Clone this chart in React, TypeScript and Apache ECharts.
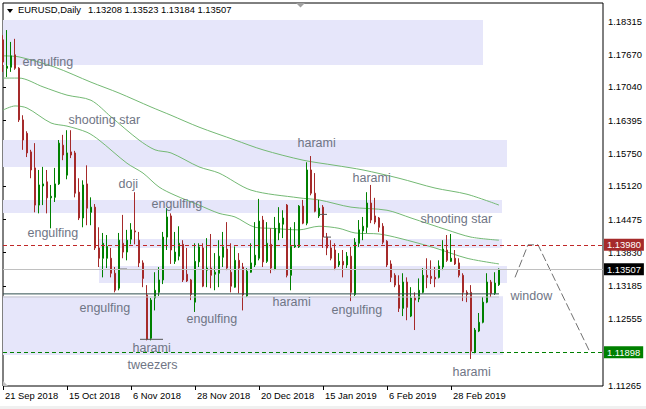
import React, { useEffect, useRef } from 'react';
import * as echarts from 'echarts';

// ---------- data ----------
const slotCount = 151; // bar slots incl. right shift space
const tickIndex = [0, 16, 32, 48, 64, 80, 96, 112];
const tickLabels = ['21 Sep 2018', '15 Oct 2018', '6 Nov 2018', '28 Nov 2018', '20 Dec 2018', '15 Jan 2019', '6 Feb 2019', '28 Feb 2019'];
const priceTicks = [1.18315, 1.1767, 1.1704, 1.16395, 1.1575, 1.1512, 1.14475, 1.1383, 1.13185, 1.12555, 1.11925, 1.11265];
const priceLabels = [1.18315, 1.1767, 1.1704, 1.16395, 1.1575, 1.1512, 1.14475, 1.1383, 1.13185, 1.12555, 1.11265];

// [open, high, low, close]
const candles = [
  [1.1795, 1.1804, 1.1733, 1.1752], [1.1740, 1.1814, 1.1723, 1.1744], [1.1742, 1.1791, 1.1733, 1.1764], [1.1766, 1.1797, 1.1737, 1.1740],
  [1.1740, 1.1742, 1.1636, 1.1640], [1.1640, 1.1649, 1.1582, 1.1601], [1.1614, 1.1618, 1.1568, 1.1576], [1.1578, 1.1582, 1.1527, 1.1543],
  [1.1547, 1.1595, 1.1461, 1.1475], [1.1475, 1.1543, 1.1459, 1.1514], [1.1512, 1.1549, 1.1475, 1.1516], [1.1520, 1.1543, 1.1459, 1.1489],
  [1.1489, 1.1514, 1.1430, 1.1492], [1.1490, 1.1547, 1.1481, 1.1516], [1.1516, 1.1601, 1.1514, 1.1595], [1.1591, 1.1611, 1.1562, 1.1572],
  [1.1533, 1.1620, 1.1525, 1.1576], [1.1578, 1.1620, 1.1566, 1.1572], [1.1576, 1.1580, 1.1490, 1.1498], [1.1500, 1.1527, 1.1446, 1.1450],
  [1.1450, 1.1523, 1.1432, 1.1514], [1.1516, 1.1552, 1.1436, 1.1469], [1.1461, 1.1490, 1.1436, 1.1471], [1.1471, 1.1477, 1.1388, 1.1392],
  [1.1392, 1.1432, 1.1355, 1.1372], [1.1372, 1.1421, 1.1335, 1.1401], [1.1372, 1.1417, 1.1353, 1.1395], [1.1372, 1.1392, 1.1335, 1.1343],
  [1.1343, 1.1355, 1.1306, 1.1310], [1.1314, 1.1421, 1.1310, 1.1407], [1.1401, 1.1456, 1.1372, 1.1384], [1.1384, 1.1427, 1.1368, 1.1407],
  [1.1409, 1.1440, 1.1399, 1.1427], [1.1425, 1.1500, 1.1399, 1.1423], [1.1407, 1.1423, 1.1355, 1.1363], [1.1363, 1.1368, 1.1316, 1.1333],
  [1.1301, 1.1320, 1.1213, 1.1215], [1.1217, 1.1295, 1.1213, 1.1291], [1.1295, 1.1345, 1.1271, 1.1310], [1.1306, 1.1355, 1.1299, 1.1330],
  [1.1330, 1.1423, 1.1322, 1.1413], [1.1413, 1.1469, 1.1388, 1.1452], [1.1454, 1.1459, 1.1361, 1.1388], [1.1366, 1.1423, 1.1361, 1.1384],
  [1.1376, 1.1434, 1.1368, 1.1401], [1.1399, 1.1407, 1.1326, 1.1330], [1.1341, 1.1392, 1.1326, 1.1328], [1.1330, 1.1332, 1.1291, 1.1302],
  [1.1287, 1.1401, 1.1268, 1.1366], [1.1365, 1.1401, 1.1355, 1.1394], [1.1392, 1.1401, 1.1316, 1.1318], [1.1349, 1.1411, 1.1316, 1.1353],
  [1.1353, 1.1419, 1.1314, 1.1339], [1.1341, 1.1382, 1.1310, 1.1345], [1.1343, 1.1407, 1.1316, 1.1376], [1.1374, 1.1423, 1.1355, 1.1394],
  [1.1390, 1.1442, 1.1349, 1.1353], [1.1345, 1.1401, 1.1306, 1.1318], [1.1316, 1.1395, 1.1315, 1.1368], [1.1368, 1.1382, 1.1304, 1.1353],
  [1.1355, 1.1363, 1.1271, 1.1301], [1.1299, 1.1353, 1.1297, 1.1347], [1.1345, 1.1401, 1.1344, 1.1363], [1.1359, 1.1442, 1.1355, 1.1378],
  [1.1372, 1.1487, 1.1368, 1.1444], [1.1446, 1.1454, 1.1355, 1.1365], [1.1366, 1.1442, 1.1363, 1.1401], [1.1399, 1.1430, 1.1343, 1.1353],
  [1.1351, 1.1452, 1.1349, 1.1430], [1.1421, 1.1471, 1.1407, 1.1440], [1.1438, 1.1465, 1.1411, 1.1450], [1.1475, 1.1477, 1.1335, 1.1339],
  [1.1339, 1.1432, 1.1310, 1.1395], [1.1394, 1.1442, 1.1392, 1.1397], [1.1394, 1.1475, 1.1392, 1.1473], [1.1473, 1.1485, 1.1438, 1.1440],
  [1.1440, 1.1558, 1.1436, 1.1543], [1.1543, 1.1570, 1.1494, 1.1498], [1.1498, 1.1537, 1.1461, 1.1463], [1.1454, 1.1485, 1.1450, 1.1469],
  [1.1471, 1.1475, 1.1392, 1.1413], [1.1413, 1.1421, 1.1378, 1.1392], [1.1392, 1.1407, 1.1368, 1.1372], [1.1388, 1.1401, 1.1349, 1.1353],
  [1.1359, 1.1382, 1.1355, 1.1366], [1.1366, 1.1388, 1.1335, 1.1359], [1.1359, 1.1384, 1.1353, 1.1376], [1.1376, 1.1394, 1.1289, 1.1306],
  [1.1302, 1.1411, 1.1299, 1.1403], [1.1401, 1.1446, 1.1394, 1.1427], [1.1425, 1.1452, 1.1407, 1.1434], [1.1432, 1.1500, 1.1421, 1.1479],
  [1.1479, 1.1514, 1.1440, 1.1446], [1.1454, 1.1489, 1.1438, 1.1442], [1.1450, 1.1452, 1.1423, 1.1432], [1.1434, 1.1440, 1.1399, 1.1403],
  [1.1405, 1.1407, 1.1355, 1.1359], [1.1361, 1.1368, 1.1326, 1.1335], [1.1339, 1.1343, 1.1316, 1.1320], [1.1320, 1.1339, 1.1268, 1.1275],
  [1.1275, 1.1343, 1.1260, 1.1326], [1.1326, 1.1335, 1.1252, 1.1277], [1.1260, 1.1316, 1.1258, 1.1295], [1.1295, 1.1306, 1.1233, 1.1291],
  [1.1293, 1.1333, 1.1287, 1.1310], [1.1306, 1.1353, 1.1304, 1.1339], [1.1339, 1.1372, 1.1314, 1.1335], [1.1337, 1.1368, 1.1322, 1.1333],
  [1.1335, 1.1355, 1.1316, 1.1332], [1.1335, 1.1368, 1.1333, 1.1357], [1.1355, 1.1407, 1.1349, 1.1390], [1.1388, 1.1417, 1.1365, 1.1368],
  [1.1366, 1.1419, 1.1365, 1.1372], [1.1372, 1.1388, 1.1359, 1.1361], [1.1363, 1.1372, 1.1335, 1.1339], [1.1339, 1.1343, 1.1289, 1.1306],
  [1.1306, 1.1310, 1.1287, 1.1302], [1.1306, 1.1320, 1.1177, 1.1192], [1.1190, 1.1237, 1.1188, 1.1233], [1.1231, 1.1266, 1.1229, 1.1248],
  [1.1248, 1.1297, 1.1246, 1.1287], [1.1287, 1.1343, 1.1285, 1.1326], [1.1326, 1.1330, 1.1297, 1.1304], [1.1304, 1.1345, 1.1301, 1.1324],
  [1.13208, 1.13523, 1.13184, 1.13507],
];

// moving averages read at sample bars: [barIndex, value]
const maSlow = [[0, 1.1764], [4, 1.1762], [13, 1.1742], [22, 1.1713], [29, 1.1692], [37, 1.1665], [42, 1.1649], [49, 1.1626], [58, 1.1601], [65, 1.1582], [75, 1.1562], [83, 1.1552], [90, 1.1543], [99, 1.1527], [108, 1.1508], [116, 1.1496], [124, 1.1475]];
const maMid = [[0, 1.1721], [4, 1.1721], [10, 1.1704], [16, 1.1688], [22, 1.1678], [27, 1.1646], [34, 1.1601], [38, 1.1582], [42, 1.1576], [49, 1.1549], [54, 1.1537], [62, 1.1504], [74, 1.1489], [79, 1.1485], [87, 1.1471], [96, 1.1465], [102, 1.1450], [111, 1.1427], [117, 1.1413], [124, 1.1407]];
const maFast = [[0, 1.1659], [3, 1.1667], [6, 1.1663], [12, 1.1634], [16, 1.1628], [21, 1.1616], [24, 1.1601], [31, 1.1556], [35, 1.1537], [39, 1.1510], [43, 1.1494], [49, 1.1475], [54, 1.1459], [58, 1.1452], [63, 1.1432], [67, 1.1430], [74, 1.1427], [79, 1.1434], [84, 1.1430], [88, 1.1421], [94, 1.1419], [99, 1.1411], [108, 1.1392], [116, 1.1372], [124, 1.1361]];

// lavender zones
const zoneStart = [0, 0, 0, 24, 24, 0];
const zoneEnd = [120, 126, 124.75, 124.75, 126, 125];
const zoneHigh = [1.18334, 1.16010, 1.14848, 1.14093, 1.13570, 1.12985];
const zoneLow = [1.17463, 1.15487, 1.14596, 1.13918, 1.13240, 1.11846];

// horizontal levels
const resistance = 1.1398;
const support = 1.11898;
const bid = 1.13507;
const midLevel = 1.1303;
const midLevel2 = 1.1297;
const levelEnd = 124;

// short drawn segments [x0, x1, price]
const segments = [[34.25, 40, 1.1215], [29.25, 31, 1.1351], [79, 81, 1.1457], [80.25, 82, 1.1413]];

// projected path
const pathIdx = [128, 131.25, 133.75, 146.75];
const pathPrice = [1.1335, 1.1398, 1.1398, 1.1190];

// annotations
const noteText = ['engulfing', 'shooting star', 'doji', 'engulfing', 'engulfing', 'harami', 'harami', 'shooting star', 'engulfing', 'engulfing', 'harami', 'engulfing', 'harami', 'tweezers', 'window', 'harami'];
const noteIdx = [4.75, 16.25, 28.75, 37, 6, 73.5, 87.25, 104.25, 19, 45.75, 67.25, 82, 32.25, 31, 126.75, 112.25];
const notePrice = [1.1752, 1.1640, 1.1516, 1.1477, 1.1421, 1.1595, 1.1527, 1.1448, 1.1275, 1.1254, 1.1287, 1.1271, 1.1198, 1.1165, 1.1299, 1.1151];

const headerSymbol = 'EURUSD,Daily';
const headerValues = '1.13208 1.13523 1.13184 1.13507';

// ---------- chart ----------
const FONT = "'Liberation Sans', Arial, sans-serif";
const UP = '#008000';
const DOWN = '#a52a2a';
const MA = '#74b974';

export default function App() {
  const ref = useRef<HTMLDivElement>(null);

  useEffect(() => {
    if (!ref.current) return;
    const chart = echarts.init(ref.current, null, { renderer: 'svg' });
    const cats = Array.from({ length: slotCount }, (_, i) => String(i));
    const labelOf: Record<string, string> = {};
    tickIndex.forEach((t, k) => { labelOf[String(t)] = tickLabels[k]; });
    const showTick = (idx: number) => tickIndex.indexOf(idx) >= 0;

    const lineSeries = (data: number[][], color: string, extra: any = {}) => ({
      type: 'line', xAxisIndex: 1, yAxisIndex: 0, data, showSymbol: false, symbol: 'none',
      silent: true, z: 4, lineStyle: { color, width: 1, ...(extra.lineStyle || {}) }, ...extra.rest,
    });

    const tag = (bg: string) => ({
      show: true, position: 'end', backgroundColor: bg, color: '#fff', padding: [2, 3, 1, 3],
      distance: 1, fontSize: 9.4, fontFamily: FONT,
    });

    const option: any = {
      animation: false,
      backgroundColor: '#ffffff',
      textStyle: { fontFamily: FONT },
      grid: { left: 3, top: 3, width: 600, height: 383, show: true, borderColor: '#000', borderWidth: 1, backgroundColor: '#fff' },
      xAxis: [
        {
          type: 'category', data: cats, boundaryGap: false,
          axisLine: { show: false },
          axisTick: { show: true, interval: (i: number) => showTick(i), length: 4, lineStyle: { color: '#000' } },
          axisLabel: {
            interval: (i: number) => showTick(i), formatter: (v: string) => labelOf[v] || '',
            align: 'left', margin: 5, fontSize: 9.4, color: '#000', fontFamily: FONT, padding: [0, 0, 0, 2],
          },
          splitLine: { show: false },
        },
        { type: 'value', min: 0, max: slotCount - 1, show: false },
      ],
      yAxis: {
        type: 'value', position: 'right', min: 1.11246, max: 1.18664, scale: true,
        splitLine: { show: false }, axisLine: { show: false },
        axisTick: { show: true, length: 3, customValues: priceTicks, lineStyle: { color: '#000' } },
        axisLabel: { customValues: priceLabels, formatter: (v: number) => v.toFixed(5), margin: 5, fontSize: 9.4, color: '#000', fontFamily: FONT },
      },
      series: [
        {
          type: 'line', xAxisIndex: 1, yAxisIndex: 0, data: [], z: 1, silent: true,
          markArea: {
            silent: true, itemStyle: { color: '#e6e6fa' },
            data: zoneStart.map((s, k) => [{ xAxis: s, yAxis: zoneHigh[k] }, { xAxis: zoneEnd[k], yAxis: zoneLow[k] }]),
          },
        },
        lineSeries(maSlow, MA, { rest: { smooth: 0.3, z: 2 } }),
        lineSeries(maMid, MA, { rest: { smooth: 0.3, z: 2 } }),
        lineSeries(maFast, MA, { rest: { smooth: 0.3, z: 2 } }),
        lineSeries([[0, midLevel2], [levelEnd, midLevel2]], '#c4c4cc'),
        lineSeries([[0, midLevel], [levelEnd, midLevel]], '#2f4f4f'),
        ...segments.map((s) => lineSeries([[s[0], s[2]], [s[1], s[2]]], '#555')),
        lineSeries(pathIdx.map((x, k) => [x, pathPrice[k]]), '#707070', { lineStyle: { type: [8, 3] } }),
        {
          type: 'candlestick', xAxisIndex: 0, yAxisIndex: 0, z: 3, barWidth: 2,
          data: candles.map((c) => [c[0], c[3], c[2], c[1]]),
          itemStyle: { color: UP, color0: DOWN, borderColor: UP, borderColor0: DOWN, borderWidth: 1 },
          markLine: {
            silent: true, symbol: ['none', 'none'], animation: false, precision: 5,
            data: [
              { yAxis: bid, lineStyle: { color: '#c0c0c0', type: 'solid', width: 1 }, label: { ...tag('#000'), formatter: bid.toFixed(5) } },
              { yAxis: resistance, lineStyle: { color: '#c02828', type: [4, 3], width: 1 }, label: { ...tag('#a52a2a'), formatter: resistance.toFixed(5) } },
              { yAxis: support, lineStyle: { color: '#008000', type: [4, 3], width: 1 }, label: { ...tag('#008000'), formatter: support.toFixed(5) } },
            ],
          },
        },
        {
          type: 'line', xAxisIndex: 1, yAxisIndex: 0, data: [], z: 6, silent: true,
          markPoint: {
            silent: true, symbol: 'circle', symbolSize: 1, itemStyle: { color: 'rgba(0,0,0,0)' },
            label: { show: true, position: 'right', distance: 0, color: '#6f7585', fontSize: 12.5, fontFamily: FONT, formatter: (p: any) => p.name },
            data: noteText.map((t, k) => ({ name: t, coord: [noteIdx[k], notePrice[k]] })),
          },
        },
      ],
      graphic: [
        { type: 'polygon', shape: { points: [[7, 9], [13, 9], [10, 13]] }, style: { fill: '#000' }, z: 10 },
        { type: 'text', left: 18, top: 5, style: { text: headerSymbol, fill: '#000', font: `9.4px ${FONT}` }, z: 10 },
        { type: 'text', left: 88, top: 5, style: { text: headerValues, fill: '#000', font: `9.4px ${FONT}` }, z: 10 },
        { type: 'polygon', shape: { points: [[296, 3], [305, 3], [300.5, 7.5]] }, style: { fill: '#a0a0a0' }, z: 10 },
        { type: 'polygon', shape: { points: [[3, 381], [3, 386], [8, 386]] }, style: { fill: '#c0c0c0' }, z: 10 },
        { type: 'rect', shape: { x: 0, y: 406, width: 646, height: 3 }, style: { fill: '#f0f0f0' }, z: 0 },
      ],
    };
    chart.setOption(option);
    return () => chart.dispose();
  }, []);

  return <div ref={ref} style={{ position: 'fixed', left: 0, top: 0, width: 646, height: 409, background: '#fff' }} />;
}
